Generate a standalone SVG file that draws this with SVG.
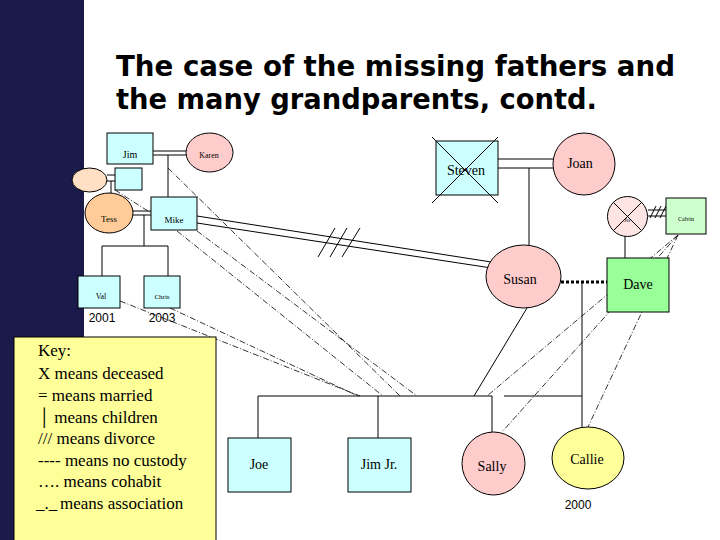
<svg xmlns="http://www.w3.org/2000/svg" width="720" height="540" viewBox="0 0 720 540">
<style>
.ln{stroke:#000;stroke-width:1;fill:none}
.dd{stroke:#000;stroke-width:0.8;fill:none;stroke-dasharray:6,2,1,2}
.nd{stroke:#000;stroke-width:1}
.cy{fill:#ccffff}
.pk{fill:#ffcccc}
.t{font-family:"Liberation Serif","Times New Roman",serif;fill:#000;text-anchor:middle}
.s{font-family:"Liberation Sans",Arial,sans-serif;fill:#000;text-anchor:middle;font-size:12px}
.k{font-family:"Liberation Serif","Times New Roman",serif;fill:#000;font-size:17px}
</style>
<rect x="0" y="0" width="720" height="540" fill="#fff"/>
<rect x="0" y="0" width="84" height="540" fill="#1b1b4b"/>
<g id="title" font-family="'DejaVu Sans',Verdana,sans-serif" font-weight="bold" font-size="28">
<text x="116" y="76" textLength="559" lengthAdjust="spacingAndGlyphs">The case of the missing fathers and</text>
<text x="116" y="109" textLength="481" lengthAdjust="spacingAndGlyphs">the many grandparents, contd.</text>
</g>
<g id="connectors">
<path class="ln" d="M153,151 H186 M153,155 H186 M168,155 V197"/>
<path class="ln" d="M107,175 H115 M107,181 H115 M111,181 V194"/>
<path class="ln" d="M133,211 H151 M133,215 H151 M144,215 V246 M102,246 H168 M102,246 V276 M168,246 V276"/>
<path class="ln" d="M498,159 H553 M498,168 H553 M529,168 V246"/>
<path class="ln" d="M648,210 H666 M648,216 H666 M650,218 L656,206 M655,218 L661,206 M660,218 L666,206"/>
<path class="ln" d="M625,236 V258"/>
<path class="ln" d="M197,216 L504,264 M197,223 L498,269"/>
<path class="ln" d="M318,257 L335,228 M330,257 L347,228 M342,257 L360,228"/>
<path d="M561,282 H607" stroke="#000" stroke-width="3" stroke-dasharray="3,2" fill="none"/>
<path class="ln" d="M582,282 V427 M504,396 H582"/>
<path class="ln" d="M258,396 H492 M258,396 V438 M378,396 V438 M492,396 V432"/>
<path class="ln" d="M527,308 L474,396"/>
<path class="dd" d="M115,190 L151,213"/>
<path class="dd" d="M168,168 L400,396"/>
<path class="dd" d="M177,231 L383,396"/>
<path class="dd" d="M197,231 L417,396"/>
<path class="dd" d="M120,301 L360,396"/>
<path class="dd" d="M170,308 L358,396"/>
<path class="dd" d="M678,235 L487,396"/>
<path class="dd" d="M678,235 L502,432"/>
<path class="dd" d="M678,235 L588,427"/>
</g>
<g id="jim"><rect class="nd cy" x="107" y="133" width="46" height="31"/><text class="t" x="130" y="158" font-size="10">Jim</text></g>
<g id="karen"><ellipse class="nd pk" cx="209.5" cy="152.5" rx="23.5" ry="19.5"/><text class="t" x="209" y="158" font-size="8">Karen</text></g>
<g id="gp-f"><ellipse class="nd" fill="#ffe0c4" cx="89.5" cy="180" rx="17.5" ry="12"/></g>
<g id="gp-m"><rect class="nd cy" x="115" y="168" width="27" height="22"/></g>
<g id="tess"><ellipse class="nd" fill="#ffcc99" cx="109" cy="213" rx="24" ry="20"/><text class="t" x="109" y="222" font-size="9">Tess</text></g>
<g id="mike"><rect class="nd cy" x="151" y="197" width="46" height="33"/><text class="t" x="174" y="223" font-size="9">Mike</text></g>
<g id="val"><rect class="nd cy" x="78" y="276" width="42" height="32"/><text class="t" x="101" y="299" font-size="8">Val</text><text class="s" x="102" y="322">2001</text></g>
<g id="chris"><rect class="nd cy" x="144" y="276" width="36" height="32"/><text class="t" x="162" y="299" font-size="7">Chris</text><text class="s" x="162" y="322">2003</text></g>
<g id="steven"><rect class="nd cy" x="436" y="141" width="62" height="54"/><path class="ln" d="M432,137 L498,203 M498,137 L432,203"/><text class="t" x="466" y="175" font-size="14">Steven</text></g>
<g id="joan"><circle class="nd pk" cx="584" cy="164" r="31"/><text class="t" x="580" y="168" font-size="14">Joan</text></g>
<g id="jo"><circle class="nd" fill="#ffe4e4" cx="627.5" cy="216.5" r="20"/><path class="ln" d="M613.4,202.4 L641.6,230.6 M641.6,202.4 L613.4,230.6"/><text class="t" x="627" y="222" font-size="7">Jo</text></g>
<g id="calvin"><rect class="nd" fill="#ccffcc" x="666" y="198" width="40" height="36"/><text class="t" x="686" y="221" font-size="6">Calvin</text></g>
<g id="susan"><ellipse class="nd pk" cx="523.5" cy="276.5" rx="37.5" ry="31.5"/><text class="t" x="520" y="284" font-size="14">Susan</text></g>
<g id="dave"><rect class="nd" fill="#99ff99" x="607" y="258" width="62" height="54"/><text class="t" x="638" y="289" font-size="14">Dave</text></g>
<g id="joe"><rect class="nd cy" x="228" y="438" width="63" height="54"/><text class="t" x="259" y="469" font-size="14">Joe</text></g>
<g id="jimjr"><rect class="nd cy" x="348" y="438" width="63" height="54"/><text class="t" x="379" y="469" font-size="14">Jim Jr.</text></g>
<g id="sally"><circle class="nd pk" cx="493.5" cy="463.5" r="31.5"/><text class="t" x="492" y="471" font-size="14">Sally</text></g>
<g id="callie"><ellipse class="nd" fill="#ffff99" cx="588" cy="458" rx="36" ry="31"/><text class="t" x="587" y="464" font-size="14">Callie</text><text class="s" x="578" y="509">2000</text></g>
<g id="key">
<rect x="14" y="337" width="202" height="210" fill="#ffff99" stroke="#000" stroke-width="1"/>
<text class="k" x="38" y="356">Key:</text>
<text class="k" x="38" y="379">X means deceased</text>
<text class="k" x="38" y="401">= means married</text>
<text class="k" x="38" y="423">│ means children</text>
<text class="k" x="38" y="444">/// means divorce</text>
<text class="k" x="38" y="466">---- means no custody</text>
<text class="k" x="38" y="487">…. means cohabit</text>
<text class="k" x="36" y="509">_._<tspan x="60">means association</tspan></text>
</g>
</svg>
